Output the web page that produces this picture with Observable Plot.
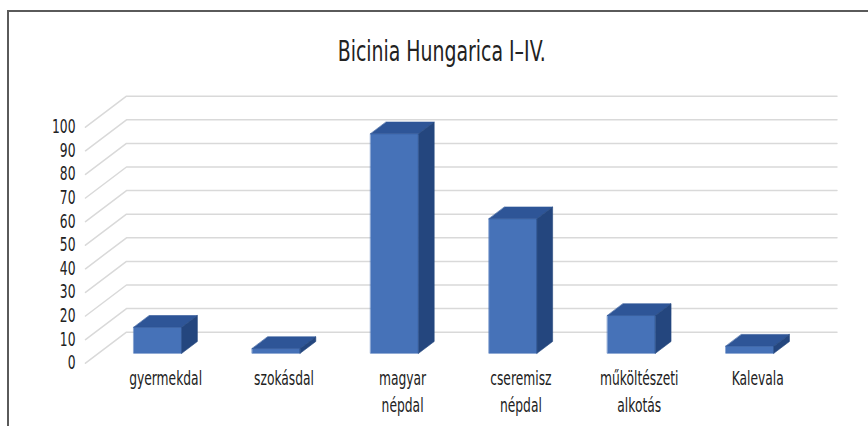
<!DOCTYPE html>
<html><head><meta charset="utf-8">
<script src="https://cdn.jsdelivr.net/npm/d3@7"></script>
<script src="https://cdn.jsdelivr.net/npm/@observablehq/plot@0.6"></script>
<style>
body{margin:0;background:#fff;overflow:hidden;width:868px;height:426px;position:relative;font-family:"DejaVu Sans Condensed","Liberation Sans Narrow",sans-serif}
#frame{position:absolute;left:7px;top:10px;width:900px;height:500px;border:2px solid #5a5a5a;box-sizing:border-box}
#chart{position:absolute;left:0;top:0}
#titlewrap{position:absolute;left:0;width:884px;top:36px;text-align:center}
#title{display:inline-block;font-size:28px;line-height:32px;color:#222;transform:scaleX(0.75);transform-origin:center}
</style></head><body>
<div id="frame"></div>
<div id="chart"></div>
<div id="titlewrap"><span id="title"></span></div>
<script>
const title = "Bicinia Hungarica I–IV.";
const categories = ["gyermekdal", "szokásdal", "magyar\nnépdal", "cseremisz\nnépdal", "műköltészeti\nalkotás", "Kalevala"];
const values = [11, 2, 93, 57, 16, 3];
const yTicks = [0, 10, 20, 30, 40, 50, 60, 70, 80, 90, 100];

document.getElementById("title").textContent = title;

// oblique depth projection (in data units)
const DX = 0.346, DY = 13.14;
const dFront = 0.32, dBack = 0.70, half = 0.2025;
const P = (x, v, d) => ({x: x + d * DX, y: v + d * DY});
const xMin = -0.5, xMax = categories.length - 0.5;

const grid = yTicks.flatMap(t => [P(xMin, t, 0), P(xMin, t, 1), P(xMax, t, 1)].map(p => ({...p, id: t})));

const frontFaces = [], topFaces = [], sideFaces = [];
values.forEach((v, i) => {
  [P(i - half, 0, dFront), P(i + half, 0, dFront), P(i + half, v, dFront), P(i - half, v, dFront)]
    .forEach(p => frontFaces.push({...p, id: i}));
  [P(i - half, v, dFront), P(i + half, v, dFront), P(i + half, v, dBack), P(i - half, v, dBack)]
    .forEach(p => topFaces.push({...p, id: i}));
  [P(i + half, 0, dFront), P(i + half, 0, dBack), P(i + half, v, dBack), P(i + half, v, dFront)]
    .forEach(p => sideFaces.push({...p, id: i}));
});

const labels = categories.map((c, i) => ({c, x: i + (dFront + dBack) / 2 * DX}));

const face = (data, color) => Plot.line(data, {x: "x", y: "y", z: "id", curve: "linear-closed", fill: color, stroke: color, strokeWidth: 0.6});

const chart = Plot.plot({
  width: 868, height: 426,
  marginLeft: 85, marginRight: 72.5, marginTop: 126.7, marginBottom: 63.3,
  style: {fontSize: "19px", fontFamily: "'DejaVu Sans Condensed','Liberation Sans Narrow',sans-serif", color: "#222", background: "transparent"},
  x: {domain: [xMin, xMax], axis: null},
  y: {domain: [0, 100], ticks: yTicks, tickSize: 0, tickPadding: 10, label: null},
  marks: [
    Plot.line(grid, {x: "x", y: "y", z: "id", stroke: "#d9d9d9", strokeWidth: 1.5}),
    face(frontFaces, "#4672b8"),
    face(topFaces, "#2e5597"),
    face(sideFaces, "#24467e"),
    Plot.text(labels, {x: "x", y: () => 0, text: "c", lineAnchor: "top", dy: 3, lineHeight: 1.42, fill: "#222"})
  ]
});
document.getElementById("chart").appendChild(chart);

// condense the glyphs horizontally around each text's own anchor
const SX = 0.72;
Array.from(chart.querySelectorAll("text")).forEach(t => {
  const r = t.getBoundingClientRect();
  const anchor = getComputedStyle(t).textAnchor;
  const sx = anchor === "end" ? r.right : anchor === "middle" ? (r.left + r.right) / 2 : r.left;
  const m = t.parentNode.getScreenCTM();
  const ax = (sx - m.e) / m.a;
  const g = document.createElementNS("http://www.w3.org/2000/svg", "g");
  g.setAttribute("transform", `translate(${ax},0) scale(${SX},1) translate(${-ax},0)`);
  t.parentNode.insertBefore(g, t);
  g.appendChild(t);
});
</script>
</body></html>
